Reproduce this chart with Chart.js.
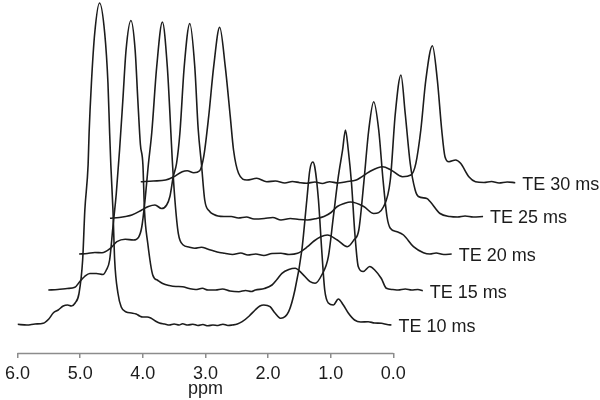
<!DOCTYPE html>
<html>
<head>
<meta charset="utf-8">
<script src="https://cdn.jsdelivr.net/npm/chart.js@4/dist/chart.umd.min.js"></script>
<style>
  html, body { margin: 0; padding: 0; background: #fff; }
  #wrap { width: 600px; height: 400px; }
</style>
</head>
<body>
<div id="wrap"><canvas id="nmr_chart"></canvas></div>
<script>
// spectra: chemical shift (ppm) and intensity above each baseline
var te10Ppm = [6.00, 5.85, 5.72, 5.59, 5.50, 5.43, 5.35, 5.27, 5.20, 5.14, 5.08, 5.02, 4.96, 4.925, 4.873, 4.857, 4.82, 4.767, 4.69, 4.608, 4.556, 4.529, 4.51, 4.476, 4.449, 4.397, 4.344, 4.265, 4.18, 4.106, 4.05, 4.00, 3.93, 3.873, 3.80, 3.735, 3.65, 3.576, 3.50, 3.42, 3.365, 3.28, 3.20, 3.12, 3.04, 2.96, 2.88, 2.80, 2.72, 2.64, 2.571, 2.49, 2.413, 2.30, 2.206, 2.13, 2.068, 1.968, 1.889, 1.794, 1.671, 1.571, 1.46, 1.381, 1.333, 1.286, 1.254, 1.195, 1.143, 1.095, 1.037, 0.957, 0.878, 0.798, 0.719, 0.619, 0.52, 0.402, 0.30, 0.19, 0.10, 0.03];
var te10Int = [0.7, 0, 1, 1.7, 6, 12, 15, 19, 20, 19, 22, 31, 65, 115, 160, 192, 242, 292, 322, 292, 242, 192, 160, 115, 65, 32, 18, 13, 12, 11, 9, 8, 8, 7, 4, 2, 1, 0, 1, 0, 1.2, 0, 0.8, -0.5, 0.5, -0.8, 0, -0.5, 0.8, -0.5, 0, 1, 3.3, 9, 15, 19, 20, 18.3, 12, 6.7, 13.3, 35, 75, 125, 155, 163, 158, 125, 75, 35, 22, 20, 26, 20, 12, 5, 3, 3.3, 2, 1.7, 0.5, 0];

var te15Ppm = [6.00, 5.85, 5.70, 5.576, 5.497, 5.42, 5.338, 5.233, 5.127, 5.074, 5.021, 4.968, 4.915, 4.862, 4.81, 4.759, 4.681, 4.614, 4.571, 4.53, 4.49, 4.465, 4.413, 4.333, 4.25, 4.175, 4.07, 3.963, 3.857, 3.751, 3.65, 3.54, 3.45, 3.329, 3.22, 3.10, 2.957, 2.85, 2.76, 2.694, 2.55, 2.429, 2.35, 2.27, 2.16, 2.059, 1.952, 1.821, 1.741, 1.635, 1.529, 1.449, 1.37, 1.302, 1.256, 1.211, 1.159, 1.106, 1.052, 0.973, 0.868, 0.789, 0.683, 0.603, 0.50, 0.417, 0.30, 0.20, 0.10, 0.021];
var te15Int = [-0.5, 0, 1, 2.2, 8, 13, 16, 16, 15, 19.5, 29.5, 63, 96, 140, 189.5, 239.5, 269, 239.5, 189.5, 145, 125, 79.5, 46.5, 14.5, 9, 6, 4, 3, 2.8, 1, 0, 1.2, -0.5, -0.5, 0.5, -1.5, -2.2, -1, -2, -0.5, 1, 4.5, 10, 16.2, 20, 21.2, 16.2, 7.8, 6.2, 14.5, 32.8, 72.8, 112.8, 139.5, 159.5, 139.5, 106, 56, 23, 18, 23, 19.5, 11, 1.2, 0, -0.5, 0.5, -0.5, 0, -1.2];

var te20Ppm = [6.00, 5.87, 5.75, 5.635, 5.503, 5.397, 5.265, 5.132, 5.052, 5.00, 4.948, 4.894, 4.841, 4.762, 4.671, 4.592, 4.535, 4.513, 4.471, 4.417, 4.338, 4.25, 4.154, 4.048, 3.95, 3.85, 3.76, 3.678, 3.55, 3.42, 3.306, 3.18, 3.05, 2.92, 2.778, 2.65, 2.513, 2.354, 2.25, 2.143, 2.037, 1.878, 1.719, 1.614, 1.535, 1.456, 1.376, 1.297, 1.217, 1.148, 1.084, 1.032, 0.925, 0.821, 0.662, 0.503, 0.40, 0.30, 0.18, 0.052];
var te20Int = [0, 0.5, 1.5, 1.3, 5.7, 12.3, 14.7, 14, 16.7, 27, 54, 90, 121, 187, 232, 187, 121, 94, 54, 20.7, 9, 7, 5.7, 6.7, 5, 3, 1.5, 0.7, -0.5, 1, -1, 0, -1.5, 0.5, 0.7, -0.5, 0.7, 7.3, 13, 17.3, 19, 14, 7.3, 14, 24, 70.7, 124, 152.3, 124, 74, 37, 25.7, 22.3, 19, 7.3, 1.3, 0, 1, -0.5, 0];

var te25Ppm = [6.00, 5.85, 5.75, 5.651, 5.492, 5.386, 5.281, 5.175, 5.095, 5.043, 4.989, 4.937, 4.884, 4.814, 4.725, 4.646, 4.592, 4.54, 4.487, 4.408, 4.34, 4.275, 4.18, 4.063, 3.95, 3.82, 3.70, 3.535, 3.40, 3.27, 3.12, 2.98, 2.846, 2.70, 2.583, 2.47, 2.37, 2.26, 2.159, 1.948, 1.789, 1.63, 1.524, 1.444, 1.354, 1.286, 1.206, 1.127, 1.075, 0.941, 0.889, 0.73, 0.571, 0.45, 0.33, 0.20, 0.043];
var te25Int = [0.2, 1, 2, 3.5, 8.5, 12, 13.5, 10, 13.5, 22, 42, 55, 85, 152, 195, 152, 90, 55, 18.5, 7, 4, 2.5, 2, 2, 0.5, 1.5, -0.5, 0, 1, -1.5, 0, -1, -1.5, 0, 2, 6, 12, 15, 16.5, 12, 5, 12, 38.5, 105, 143.5, 105, 55, 28.5, 22, 20, 17, 5, 2, 1.5, 2.5, 1.5, 2];

var te30Ppm = [6.00, 5.80, 5.603, 5.471, 5.338, 5.259, 5.154, 5.059, 4.995, 4.916, 4.836, 4.74, 4.651, 4.571, 4.519, 4.439, 4.306, 4.148, 3.989, 3.85, 3.70, 3.58, 3.46, 3.354, 3.22, 3.10, 2.984, 2.85, 2.719, 2.56, 2.508, 2.349, 2.138, 2.005, 1.821, 1.687, 1.608, 1.529, 1.449, 1.344, 1.265, 1.195, 1.143, 1.079, 0.973, 0.894, 0.762, 0.656, 0.52, 0.40, 0.28, 0.15, 0.021];
var te30Int = [1.3, 2, 3, 6.3, 11.3, 12.3, 10.3, 12.3, 26.3, 66.3, 116.3, 155.7, 116.3, 66.3, 33, 9.7, 3, 4.7, 1.3, 2, 0, 1.5, 0.3, -0.3, 1, -0.5, 1.3, 0, 1.3, 3, 4.7, 11.3, 16.3, 13, 6.3, 8, 19.7, 53, 103, 137.3, 103, 53, 26.3, 21.3, 23, 19.7, 6.3, 1.3, 0.5, 1.5, 0, 1, 0.3];

var teLabels = ['TE 10 ms', 'TE 15 ms', 'TE 20 ms', 'TE 25 ms', 'TE 30 ms'];
var xTicks = [6, 5, 4, 3, 2, 1, 0];
var axisTitle = 'ppm';

// stacking of the traces (each one moved right and up)
var shiftPpm = 0.492;
var shiftInt = 35.5;

var spectra = [
  [te10Ppm, te10Int],
  [te15Ppm, te15Int],
  [te20Ppm, te20Int],
  [te25Ppm, te25Int],
  [te30Ppm, te30Int]
];

var lineColor = '#1c1c1c';
var axisColor = '#8c8c8c';
var font = '"Liberation Sans", Arial, Helvetica, sans-serif';

var datasets = spectra.map(function (s, k) {
  return {
    label: teLabels[k],
    data: s[0].map(function (p, i) {
      return { x: p - k * shiftPpm, y: s[1][i] + k * shiftInt };
    }),
    borderColor: lineColor,
    borderWidth: 1.6,
    pointRadius: 0,
    fill: false,
    cubicInterpolationMode: 'monotone'
  };
});

// labels at line ends, axis line between first and last tick, axis title
var spectrumLabels = {
  id: 'spectrumLabels',
  afterDatasetsDraw: function (chart) {
    var ctx = chart.ctx;
    var xs = chart.scales.x;
    ctx.save();
    ctx.font = '18px ' + font;
    ctx.fillStyle = '#1c1c1c';
    ctx.textBaseline = 'middle';
    ctx.textAlign = 'left';
    chart.data.datasets.forEach(function (ds, i) {
      var pts = chart.getDatasetMeta(i).data;
      var last = pts[pts.length - 1];
      ctx.fillText(ds.label, last.x + 7, last.y + 2);
    });
    var y = Math.round(xs.top) + 0.5;
    ctx.strokeStyle = axisColor;
    ctx.lineWidth = 1.5;
    ctx.beginPath();
    ctx.moveTo(xs.getPixelForValue(xTicks[0]), y);
    ctx.lineTo(xs.getPixelForValue(xTicks[xTicks.length - 1]), y);
    ctx.stroke();
    ctx.textAlign = 'center';
    ctx.fillText(axisTitle, xs.getPixelForValue(3), y + 36);
    ctx.restore();
  }
};

new Chart(document.getElementById('nmr_chart').getContext('2d'), {
  type: 'line',
  data: { datasets: datasets },
  options: {
    responsive: true,
    maintainAspectRatio: false,
    animation: false,
    layout: { padding: { left: 14, right: 0, top: 0, bottom: 0 } },
    plugins: { legend: { display: false }, tooltip: { enabled: false } },
    scales: {
      x: {
        type: 'linear',
        reverse: true,
        min: -3.3,
        max: 6,
        afterBuildTicks: function (scale) {
          scale.ticks = xTicks.map(function (v) { return { value: v }; });
        },
        afterFit: function (scale) { scale.height = 47; },
        border: { display: false },
        grid: { drawOnChartArea: false, drawTicks: true, tickLength: 5, lineWidth: 1.5, color: axisColor },
        ticks: {
          autoSkip: false,
          maxRotation: 0,
          padding: 5,
          color: '#1c1c1c',
          font: { family: font, size: 18 },
          callback: function (v) { return Number(v).toFixed(1); }
        }
      },
      y: {
        display: false,
        min: -28,
        max: 325
      }
    }
  },
  plugins: [spectrumLabels]
});
</script>
</body>
</html>
